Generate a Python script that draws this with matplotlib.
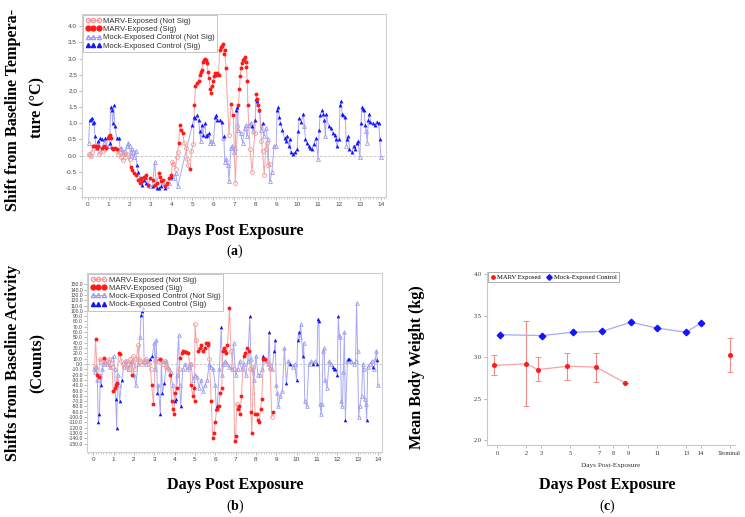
import numpy as np
import matplotlib
matplotlib.use("Agg")
import matplotlib.pyplot as plt
from matplotlib.lines import Line2D
from matplotlib.ticker import MultipleLocator

plt.rcParams["mathtext.fontset"] = "custom"
plt.rcParams["mathtext.rm"] = "Liberation Serif"
plt.rcParams["mathtext.bf"] = "Liberation Serif:bold"

# ---------------- panel (a): temperature shift ----------------
mock_temp_days = [
    0.05, 0.10, 0.15, 0.20, 0.25, 0.30, 0.35, 0.40, 0.50, 0.55, 0.60, 0.70, 0.80, 0.85, 0.90,
    1.00, 1.05, 1.10, 1.15, 1.20, 1.25, 1.30, 1.40, 1.50, 1.55, 1.60, 1.70, 1.80, 1.90, 1.95,
    2.00, 2.05, 2.10, 2.15, 2.20, 2.30, 2.35, 2.40, 2.50, 2.60, 2.70, 2.80, 2.90,
    3.00, 3.10, 3.20, 3.30, 3.40, 3.50, 3.60, 3.70, 3.80, 3.90,
    4.00, 4.10, 4.20, 4.30,
    5.00, 5.10, 5.15, 5.20, 5.30, 5.35, 5.40, 5.45, 5.50, 5.60, 5.65, 5.70, 5.80, 5.85, 5.90,
    6.00, 6.10, 6.15, 6.20, 6.30, 6.40, 6.45, 6.50, 6.55, 6.60, 6.70, 6.75, 6.85, 6.90,
    7.00, 7.05, 7.10, 7.15, 7.20, 7.30, 7.40, 7.50, 7.55, 7.60, 7.70, 7.80, 7.85, 7.90,
    8.00, 8.05, 8.10, 8.20, 8.30, 8.35, 8.40, 8.50, 8.60, 8.70, 8.80, 8.90,
    9.00, 9.05, 9.10, 9.15, 9.20, 9.30, 9.40, 9.45, 9.50, 9.60, 9.65, 9.70, 9.80, 9.90,
    10.00, 10.05, 10.10, 10.20, 10.30, 10.35, 10.40, 10.45, 10.55, 10.60, 10.70, 10.80, 10.90,
    11.00, 11.05, 11.10, 11.20, 11.25, 11.30, 11.35, 11.40, 11.50, 11.60, 11.70, 11.80, 11.85, 11.90,
    12.00, 12.05, 12.10, 12.15, 12.20, 12.30, 12.35, 12.40, 12.45, 12.50, 12.60, 12.70, 12.75, 12.85, 12.90,
    13.00, 13.05, 13.10, 13.15, 13.20, 13.25, 13.30, 13.35, 13.40, 13.45, 13.50, 13.60, 13.70, 13.80, 13.90, 13.95,
    14.00]
mock_temp_vals = [
    0.40, 1.10, 1.12, 1.15, 1.00, 1.05, 0.60, 0.25, 0.45, 0.30, 0.55, 0.50, 0.40, 0.55, 0.30,
    0.30, 0.40, 1.50, 1.40, 1.00, 1.55, 0.90, 0.55, 0.55, 0.20, 0.25, 0.10, 0.15, 0.30, 0.40,
    0.30, 0.00, 0.20, 0.10, -0.05, 0.15, -0.30, -0.50, -0.70, -0.90, -0.75, -0.85, -0.90,
    -0.95, -0.95, -0.20, -1.00, -1.00, -0.95, -0.85, -1.00, -0.95, -0.85,
    -0.65, -0.70, -0.55, -0.95,
    0.95, 1.20, 1.15, 1.25, 1.10, 0.75, 0.45, 0.95, 0.65, 1.00, 0.60, 0.65, 0.70, 0.40, 0.45,
    0.40, 1.20, 1.25, 1.10, 1.10, 1.05, 0.55, 0.60, -0.20, -0.10, -0.30, -0.80, 0.25, 0.30,
    0.10, 0.25, 1.40, 1.50, 0.80, 0.70, 0.40, 0.85, 0.95, 0.60, 0.95, 1.00, 0.90, 0.75,
    1.10, 1.75, 1.70, 1.40, 0.80, 1.00, 0.60, 0.85, 0.50, -0.80, -0.50, 0.30,
    0.30, 1.40, 1.50, 1.20, 1.00, 0.80, 0.55, 0.45, 0.60, 0.30, 0.50, 0.10, 0.05, 0.10,
    0.20, 0.75, 1.15, 1.05, 1.30, 0.90, 0.50, 0.40, 0.30, 0.25, 0.20, 0.35, 0.55,
    -0.10, 0.80, 1.25, 1.40, 1.30, 1.10, 0.60, 1.30, 0.90, 0.85, 0.70, 0.65, 0.50, 0.30,
    0.50, 1.55, 1.70, 1.30, 1.25, 1.20, 0.30, 0.50, 0.60, 0.20, 0.10, 0.30, 0.20, 0.40, 0.45,
    -0.05, 1.00, 1.50, 1.45, 1.40, 0.95, 0.75, 0.40, 1.10, 1.30, 1.05, 1.00, 0.95, 1.05, 1.00, 0.50,
    -0.05]
mock_temp_sig = ("011111101011010" "011111111000000" "0000001111111" "0101110100" "1000"
                 "111111011111100" "01111101000000" "00110000000010" "111101000000"
                 "01111111111111" "1111101111111" "01111101111111" "111111011111111"
                 "0111110011111111" "0")

marv_temp_days = [
    0.05, 0.10, 0.15, 0.20, 0.25, 0.30, 0.40, 0.45, 0.50, 0.55, 0.60, 0.70, 0.75, 0.80, 0.85, 0.90, 0.95,
    1.00, 1.05, 1.10, 1.15, 1.20, 1.30, 1.40, 1.45, 1.50, 1.60, 1.70, 1.75, 1.80, 1.90,
    2.00, 2.05, 2.10, 2.20, 2.30, 2.40, 2.50, 2.55, 2.60, 2.70, 2.75, 2.80, 2.90,
    3.00, 3.10, 3.20, 3.30, 3.40, 3.45, 3.50, 3.60, 3.70, 3.80, 3.90,
    4.00, 4.05, 4.10, 4.20, 4.25, 4.30, 4.35, 4.40, 4.45, 4.55, 4.60, 4.70, 4.75, 4.80, 4.90, 4.95,
    5.05, 5.10, 5.15, 5.20, 5.30, 5.35, 5.40, 5.45, 5.50, 5.55, 5.60, 5.65, 5.70, 5.75, 5.80, 5.85, 5.90, 5.95,
    6.00, 6.05, 6.10, 6.15, 6.20, 6.25, 6.30, 6.35, 6.40, 6.45, 6.50, 6.55, 6.60, 6.75, 6.85, 6.95,
    7.05, 7.15, 7.20, 7.25, 7.28, 7.32, 7.36, 7.40, 7.45, 7.50, 7.55, 7.58, 7.62, 7.65, 7.75, 7.85, 7.98,
    8.05, 8.10, 8.15, 8.20, 8.30, 8.35, 8.43, 8.50, 8.55, 8.62, 8.70]
marv_temp_vals = [
    0.05, 0.03, 0.00, 0.10, 0.30, 0.30, 0.30, 0.25, 0.30, 0.05, 0.10, 0.25, 0.15, 0.30, 0.20, 0.25, 0.55,
    0.60, 0.65, 0.55, 0.25, 0.20, 0.25, 0.20, 0.05, 0.10, -0.05, -0.15, 0.05, -0.05, 0.05,
    -0.10, -0.35, -0.45, -0.55, -0.60, -0.75, -0.85, -0.70, -0.80, -0.65, -0.70, -0.60, -0.90,
    -0.70, -0.75, -0.90, -0.85, -0.55, -0.65, -0.80, -0.75, -0.95, -0.85, -0.70,
    -0.60, -0.20, -0.25, -0.40, -0.05, 0.10, 0.40, 0.95, 0.80, 0.70, 0.40, 0.25, -0.10, -0.30, -0.40, 0.15,
    0.35, 1.55, 2.15, 2.25, 2.30, 2.50, 2.60, 2.65, 2.90, 2.95, 3.00, 2.95, 2.85, 2.60, 2.40, 2.05, 1.95, 2.15,
    2.30, 2.45, 2.55, 2.50, 2.55, 2.50, 3.25, 3.35, 3.40, 3.45, 3.15, 3.25, 2.70, 0.65, 1.60, 1.25,
    -0.85, 0.90, 1.55, 2.05, 2.45, 2.70, 2.85, 2.95, 3.00, 3.05, 2.90, 2.75, 2.30, 1.55, 0.20, -0.50, 0.70,
    1.90, 1.75, 1.55, 1.40, 0.45, 0.15, -0.60, 0.20, 0.40, -0.30, -0.25]
marv_temp_sig = ("00001111100101011" "11111110000000" "0111111111111" "11111111111"
                 "1000001111000010" "011111111111111111" "1111111111111011"
                 "00111111111111000" "11110000000")

# ---------------- panel (b): activity shift ----------------
mock_act_days = [
    0.05, 0.10, 0.15, 0.20, 0.25, 0.30, 0.35, 0.40, 0.45, 0.50, 0.60, 0.70, 0.80, 0.90,
    1.00, 1.05, 1.10, 1.15, 1.20, 1.25, 1.30, 1.40, 1.50, 1.60, 1.70, 1.80, 1.90,
    2.00, 2.10, 2.20, 2.30, 2.35, 2.40, 2.45, 2.50, 2.60, 2.70, 2.80, 2.90,
    3.00, 3.05, 3.10, 3.15, 3.20, 3.30, 3.35, 3.40, 3.50, 3.60, 3.70, 3.80, 3.90,
    4.00, 4.05, 4.10, 4.20, 4.25, 4.30, 4.40, 4.50, 4.60, 4.70, 4.80, 4.90,
    5.00, 5.10, 5.20, 5.30, 5.40, 5.50, 5.60, 5.70, 5.80, 5.90,
    6.00, 6.05, 6.10, 6.20, 6.30, 6.35, 6.40, 6.50, 6.60, 6.70, 6.80, 6.90,
    7.00, 7.10, 7.20, 7.30, 7.40, 7.50, 7.60, 7.70, 7.75, 7.80, 7.90,
    8.00, 8.10, 8.20, 8.30, 8.35, 8.40, 8.50, 8.60, 8.65, 8.70, 8.80, 8.90, 8.95,
    9.00, 9.05, 9.10, 9.20, 9.30, 9.40, 9.50, 9.60, 9.70, 9.80, 9.90,
    10.00, 10.05, 10.10, 10.15, 10.20, 10.30, 10.35, 10.40, 10.50, 10.60, 10.70, 10.80, 10.90,
    11.00, 11.05, 11.10, 11.15, 11.20, 11.25, 11.30, 11.35, 11.40, 11.50, 11.60, 11.70, 11.80, 11.85, 11.90,
    12.00, 12.05, 12.10, 12.15, 12.20, 12.25, 12.30, 12.35, 12.40, 12.50, 12.55, 12.60, 12.70, 12.80, 12.90, 12.95,
    13.00, 13.05, 13.10, 13.20, 13.25, 13.30, 13.35, 13.40, 13.45, 13.50, 13.60, 13.70, 13.75, 13.80, 13.88, 13.93, 13.97,
    14.00]
mock_act_vals = [
    -10, -15, -5, -30, -110, -95, -20, -40, -10, 0, 5, 0, -5, 10,
    15, -10, -65, -120, -20, -40, -70, -30, -5, 5, -10, 0, 5,
    -20, -40, 0, 50, 92, 100, 105, 5, 0, 5, 10, 15,
    40, -10, 45, -55, -40, -95, 10, -55, -35, 5, -5, -15, -40,
    -70, -65, -20, 55, -40, -80, -10, 0, -10, -5, 0, -30,
    -20, -25, -45, -30, -50, -40, -30, 0, -5, -10,
    -40, -85, -80, -10, 70, -20, 0, 5, 0, -5, -10, 40,
    -20, -10, 5, -10, 0, -20, 5, 90, 10, -10, -30,
    15, -20, -20, -10, 15, 10, 5, 0, 60, -5, -10, 25, 45,
    -40, -55, -80, -60, -50, 30, -35, 5, 0, -5, 0,
    -30, 45, 60, 50, 75, 15, 40, -70, -80, 0, 5, 0, 5,
    0, 85, 80, -75, -95, -75, 25, 30, -30, -45, 5, 0, -5, -10, -10,
    -20, 90, 55, 50, -70, -80, -15, 60, -105, 5, 10, 10, 5, 0, 5, 115,
    25, -100, -80, -60, 0, -10, -65, -75, -105, -5, 0, 5, -5, -10, 10, 25, 8,
    -40]
mock_act_sig = ("00001101000000" "0011001100000" "000011100011" "0001010110000"
                "110001000000" "0000000000" "011010000000" "00000001000"
                "0000110010011" "00000010100" "1110010000010" "111000000000111"
                "1100000010110000" "00000000100010001" "0")

marv_act_days = [
    0.07, 0.11, 0.20, 0.26, 0.32, 0.40, 0.48, 0.55, 0.62, 0.70, 0.78, 0.85, 0.92,
    0.98, 1.05, 1.10, 1.15, 1.25, 1.30, 1.38, 1.45, 1.52, 1.60, 1.68, 1.75, 1.82, 1.90, 1.96,
    2.05, 2.12, 2.20, 2.25, 2.32, 2.40, 2.50, 2.58, 2.66, 2.75, 2.82, 2.87, 2.96,
    3.04, 3.12, 3.20, 3.28, 3.36, 3.44, 3.52, 3.60, 3.68, 3.78, 3.86, 3.90, 3.97,
    4.02, 4.10, 4.20, 4.27, 4.35, 4.43, 4.50, 4.58, 4.68, 4.74, 4.80, 4.90, 4.94, 4.98,
    5.00, 5.06, 5.17, 5.25, 5.32, 5.40, 5.48, 5.55, 5.62, 5.66, 5.71, 5.80, 5.88, 5.94,
    6.00, 6.07, 6.16, 6.24, 6.32, 6.37, 6.44, 6.50, 6.55, 6.60, 6.70, 6.77, 6.90, 6.95,
    7.00, 7.06, 7.11, 7.16, 7.22, 7.29, 7.39, 7.47, 7.55, 7.64, 7.72, 7.75, 7.80, 7.88, 7.96,
    8.03, 8.10, 8.16, 8.23, 8.29, 8.37, 8.46, 8.54, 8.62, 8.70, 8.78, 8.83]
marv_act_vals = [
    -5, 47, -20, -25, 10, 5, 8, 12, 5, 0, 10, 0, -5,
    -50, -45, -40, -35, 20, 18, 5, 0, -5, 5, 0, -10, 10, -20, 15,
    -10, 10, 35, 10, 5, 0, 5, 10, 5, 0, -10, -40, -75,
    5, 10, 5, 10, 5, 0, 5, -5, -10, -20, -70, -85, -95,
    -55, -45, -10, 12, 20, 25, 22, 22, 20, 0, -40, -60, -45, -70,
    75, 45, 25, 30, 35, 25, 30, 40, 35, 40, 10, -70, -140, -130,
    -110, -85, -80, -55, -45, 25, 30, 25, 20, 35, 105, 25, -10, -145,
    -135, -75, -85, -80, -95, -60, 15, 20, 30, 25, -10, -90, -130, -5, -95,
    -95, -105, -110, -85, -65, 10, 10, 5, 0, -10, -100, -90]
marv_act_sig = ("0111000100000" "111111000000010" "0000000000011" "0001000001111"
                "11011111101111" "00111111110111" "11111111111001" "101111111101101"
                "111111100001")

# ---------------- panel (c): body weight ----------------
wt_ticks = [0, 2, 3, 5, 7, 8, 9, 11, 13, 14, 16]
wt_tick_labels = ["0", "2", "3", "5", "7", "8", "9", "11", "13", "14", "Terminal"]
marv_wt_days = [-0.2, 2.0, 2.8, 4.8, 6.8, 8.8]
marv_wt = [2.90, 2.92, 2.85, 2.89, 2.88, 2.69]
marv_wt_lo = [2.78, 2.41, 2.71, 2.72, 2.70, 2.69]
marv_wt_hi = [3.02, 3.43, 3.00, 3.05, 3.05, 2.69]
marv_term_day = [16.0]
marv_term = [3.03]
marv_term_lo = [2.82]
marv_term_hi = [3.23]
mock_wt_days = [0.2, 3.1, 5.2, 7.2, 9.2, 11.0, 13.0, 14.0]
mock_wt = [3.27, 3.26, 3.30, 3.31, 3.42, 3.35, 3.30, 3.41]

RED_LINE, RED_LIGHT, RED = "#f6a3a3", "#f29a9a", "#ff1a1a"
BLUE_LINE, BLUE_LIGHT, BLUE = "#a9a9f5", "#9c9cf0", "#1414ff"
SANS = "Liberation Sans"
SERIF = "Liberation Serif"


def draw_series(ax, days, vals, sig, line_c, light_c, dark_c, marker, ms):
    d = np.array(days, dtype=float)
    v = np.array(vals, dtype=float)
    s = np.array([c == "1" for c in sig])
    assert len(d) == len(v) == len(s), (len(d), len(v), len(s))
    ax.plot(d, v, color=line_c, lw=0.7, zorder=2)
    ax.plot(d[~s], v[~s], ls="none", marker=marker, mfc="none", mec=light_c,
            ms=ms, mew=0.6, zorder=3)
    ax.plot(d[s], v[s], ls="none", marker=marker, color=dark_c, ms=ms, mew=0, zorder=4)


def style_ts_axes(ax, xlim, ylim, yticks):
    ax.set_xlim(*xlim)
    ax.set_ylim(*ylim)
    for sp in ax.spines.values():
        sp.set_color("#cfcfcf")
        sp.set_linewidth(0.8)
    ax.axhline(0, color="#bdbdbd", lw=0.6, ls=(0, (3, 2)), zorder=1)
    ax.set_xticks(range(0, 15))
    ax.xaxis.set_minor_locator(MultipleLocator(1 / 8))
    ax.set_yticks(yticks)
    ax.yaxis.set_major_formatter(plt.FuncFormatter(lambda v, p: "{:.1f}".format(v)))
    ax.tick_params(axis="both", which="major", length=2, width=0.5, color="#999999",
                   labelsize=4.6, labelcolor="#444444", pad=1.5)
    ax.tick_params(axis="x", which="minor", length=1.2, width=0.4, color="#aaaaaa")
    for lab in ax.get_xticklabels() + ax.get_yticklabels():
        lab.set_family(SANS)


def ts_legend(ax, fs):
    h = [
        Line2D([], [], color=RED_LINE, lw=0.7, marker="o", mfc="none", mec=RED_LIGHT, ms=3),
        Line2D([], [], ls="none", marker="o", color=RED, ms=3.5),
        Line2D([], [], color=BLUE_LINE, lw=0.7, marker="^", mfc="none", mec=BLUE_LIGHT, ms=3),
        Line2D([], [], ls="none", marker="^", color=BLUE, ms=3),
    ]
    labels = ["MARV-Exposed (Not Sig)", "MARV-Exposed (Sig)",
              "Mock-Exposed Control (Not Sig)", "Mock-Exposed Control (Sig)"]
    leg = ax.legend(h, labels, loc="upper left", numpoints=3,
                    prop={"family": SANS, "size": fs}, frameon=True, fancybox=False,
                    borderaxespad=0.15, borderpad=0.3, labelspacing=0.1,
                    handlelength=2.0, handletextpad=0.3)
    leg.get_frame().set_edgecolor("#aaaaaa")
    leg.get_frame().set_linewidth(0.6)
    for t in leg.get_texts():
        t.set_color("#333333")


fig = plt.figure(figsize=(7.45, 5.17), dpi=100)

# (a)
ax_a = fig.add_axes([0.110, 0.619, 0.408, 0.354])
draw_series(ax_a, mock_temp_days, mock_temp_vals, mock_temp_sig, BLUE_LINE, BLUE_LIGHT, BLUE, "^", 2.8)
draw_series(ax_a, marv_temp_days, marv_temp_vals, marv_temp_sig, RED_LINE, RED_LIGHT, RED, "o", 2.8)
style_ts_axes(ax_a, (-0.27, 14.24), (-1.28, 4.38), np.arange(-1.0, 4.01, 0.5))
ts_legend(ax_a, 5.6)

# (b)
ax_b = fig.add_axes([0.117, 0.1257, 0.396, 0.347])
draw_series(ax_b, mock_act_days, mock_act_vals, mock_act_sig, BLUE_LINE, BLUE_LIGHT, BLUE, "^", 2.6)
draw_series(ax_b, marv_act_days, marv_act_vals, marv_act_sig, RED_LINE, RED_LIGHT, RED, "o", 2.8)
style_ts_axes(ax_b, (-0.3, 14.21), (-165.7, 172), np.arange(-150, 151, 10))
ax_b.tick_params(axis="y", labelsize=3.6, pad=1)
ts_legend(ax_b, 5.6)

# (c)
ax_c = fig.add_axes([0.654, 0.139, 0.3325, 0.3356])
err_kw = dict(fmt="none", ecolor="#f08a8a", elinewidth=0.8, capsize=2.5, capthick=0.7, zorder=2)
ax_c.plot(marv_wt_days, marv_wt, color=RED_LINE, lw=0.9, zorder=2)
ax_c.errorbar(marv_wt_days, marv_wt,
              yerr=[np.subtract(marv_wt, marv_wt_lo), np.subtract(marv_wt_hi, marv_wt)], **err_kw)
ax_c.errorbar(marv_term_day, marv_term,
              yerr=[np.subtract(marv_term, marv_term_lo), np.subtract(marv_term_hi, marv_term)], **err_kw)
ax_c.plot(marv_wt_days + marv_term_day, marv_wt + marv_term, ls="none", marker="o",
          color=RED, ms=2.6, zorder=3)
ax_c.plot(mock_wt_days, mock_wt, color=BLUE_LINE, lw=0.9, zorder=2)
ax_c.plot(mock_wt_days, mock_wt, ls="none", marker="D", color=BLUE, ms=3.3, zorder=3)
ax_c.set_xlim(-0.69, 16.36)
ax_c.set_ylim(1.94, 4.03)
ax_c.set_xticks(wt_ticks)
ax_c.set_xticklabels(wt_tick_labels)
ax_c.set_yticks([2.0, 2.5, 3.0, 3.5, 4.0])
ax_c.yaxis.set_major_formatter(plt.FuncFormatter(lambda v, p: "{:.1f}".format(v)))
for side in ("top", "right"):
    ax_c.spines[side].set_visible(False)
for side in ("left", "bottom"):
    ax_c.spines[side].set_color("#c8c8c8")
    ax_c.spines[side].set_linewidth(0.8)
ax_c.tick_params(axis="both", length=2, width=0.5, color="#999999", labelsize=4.6,
                 labelcolor="#333333", pad=2)
for lab in ax_c.get_xticklabels() + ax_c.get_yticklabels():
    lab.set_family(SERIF)
ax_c.set_xlabel("Days Post-Exposure", family=SERIF, fontsize=5.2, color="#333333", labelpad=5)
hc = [Line2D([], [], ls="none", marker="o", color=RED, ms=2.4),
      Line2D([], [], ls="none", marker="D", color=BLUE, ms=2.8)]
leg_c = ax_c.legend(hc, ["MARV Exposed", "Mock-Exposed Control"], loc="upper left",
                    ncol=2, prop={"family": SERIF, "size": 4.8}, frameon=True, fancybox=False,
                    borderaxespad=0.1, borderpad=0.3, handlelength=0.8, handletextpad=0.3,
                    columnspacing=0.8)
leg_c.get_frame().set_edgecolor("#888888")
leg_c.get_frame().set_linewidth(0.6)

# big serif labels
big = dict(family=SERIF, fontweight="bold", fontsize=11.6, color="black")
tag = dict(family=SERIF, fontsize=10, color="black", ha="center", va="center")
fig.text(0.018, 1 - 110 / 517, "Shift from Baseline Tempera-", rotation=90, ha="center", va="center", **big)
fig.text(0.050, 1 - 108 / 517, "ture (\u00b0C)", rotation=90, ha="center", va="center", **big)
fig.text(235 / 745, 1 - 231 / 517, "Days Post Exposure", ha="center", va="center", **big)
fig.text(235 / 745, 1 - 251 / 517, r"($\mathbf{a}$)", **tag)

fig.text(0.018, 1 - 363 / 517, "Shifts from Baseline Activity", rotation=90, ha="center", va="center", **big)
fig.text(0.051, 1 - 363 / 517, "(Counts)", rotation=90, ha="center", va="center", **big)
fig.text(235 / 745, 1 - 485 / 517, "Days Post Exposure", ha="center", va="center", **big)
fig.text(235 / 745, 1 - 506 / 517, r"($\mathbf{b}$)", **tag)

fig.text(417 / 745, 1 - 367 / 517, "Mean Body Weight (kg)", rotation=90, ha="center", va="center", **big)
fig.text(607 / 745, 1 - 485 / 517, "Days Post Exposure", ha="center", va="center", **big)
fig.text(607 / 745, 1 - 506 / 517, r"($\mathbf{c}$)", **tag)

fig.savefig("out.png", dpi=100)
